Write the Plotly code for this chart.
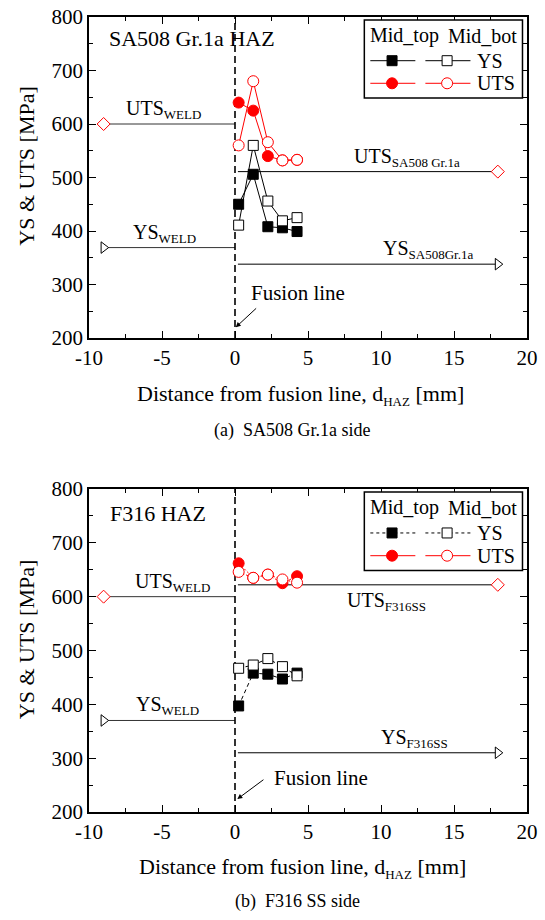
import plotly.graph_objects as go

FONT = "Liberation Serif"

# ---------------- data ----------------
x_haz = [0.25, 1.25, 2.25, 3.25, 4.25]

# (a) SA508 Gr.1a side
ys_mid_top_a = [450, 506, 408, 406, 399]
ys_mid_bot_a = [411, 560, 456, 419, 425]
uts_mid_top_a = [640, 625, 540, 532, 533]
uts_mid_bot_a = [560, 680, 566, 532, 533]
uts_weld_a = 600
ys_weld_a = 369
uts_base_a = 511
ys_base_a = 338

# (b) F316 SS side
ys_mid_top_b = [397, 458, 456, 447, 458]
ys_mid_bot_b = [467, 473, 485, 470, 453]
uts_mid_top_b = [662, 635, 641, 625, 638]
uts_mid_bot_b = [646, 635, 641, 632, 626]
uts_weld_b = 600
ys_weld_b = 370
uts_base_b = 622
ys_base_b = 310

x_weld = [-9, 0]      # weld reference: marker at -9, line to fusion line
x_base = [0.2, 18]    # base-metal reference: line from fusion line to marker at 18
x_fusion = [0, 0]
y_fusion = [200, 800]

x_range = [-10, 20]
y_range = [200, 800]
x_tickvals = [-10, -5, 0, 5, 10, 15, 20]
x_ticktext = ["-10", "-5", "0", "5", "10", "15", "20"]
y_tickvals = [200, 300, 400, 500, 600, 700, 800]
y_ticktext = ["200", "300", "400", "500", "600", "700", "800"]

fig = go.Figure()


def add_panel(xa, ya, ys_top, ys_bot, uts_top, uts_bot,
              uts_weld, ys_weld, uts_base, ys_base, ys_dash, uts_dash):
    common = dict(xaxis=xa, yaxis=ya, showlegend=False, hoverinfo="skip")
    # weld reference lines
    for val, sym, col in [(uts_weld, "diamond", "red"), (ys_weld, "triangle-right", "black")]:
        fig.add_trace(go.Scatter(x=x_weld, y=[val, val], mode="lines",
                                 line=dict(color="#333333", width=1), **common))
        fig.add_trace(go.Scatter(x=[x_weld[0]], y=[val], mode="markers",
                                 marker=dict(symbol=sym, size=10, color="white",
                                             line=dict(color=col, width=1)), **common))
    # base metal reference lines
    for val, sym, col in [(uts_base, "diamond", "red"), (ys_base, "triangle-right", "black")]:
        fig.add_trace(go.Scatter(x=x_base, y=[val, val], mode="lines",
                                 line=dict(color="black", width=1), **common))
        fig.add_trace(go.Scatter(x=[x_base[1]], y=[val], mode="markers",
                                 marker=dict(symbol=sym, size=10, color="white",
                                             line=dict(color=col, width=1)), **common))
    # fusion line
    fig.add_trace(go.Scatter(x=x_fusion, y=y_fusion, mode="lines",
                             line=dict(color="black", width=1.6, dash="7px,4px"), **common))
    # data series
    fig.add_trace(go.Scatter(x=x_haz, y=ys_top, mode="lines+markers",
                             line=dict(color="black", width=1, dash=ys_dash),
                             marker=dict(symbol="square", size=10, color="black",
                                         line=dict(color="black", width=1)), **common))
    fig.add_trace(go.Scatter(x=x_haz, y=ys_bot, mode="lines+markers",
                             line=dict(color="black", width=1, dash=ys_dash),
                             marker=dict(symbol="square", size=10, color="white",
                                         line=dict(color="black", width=1)), **common))
    fig.add_trace(go.Scatter(x=x_haz, y=uts_top, mode="lines+markers",
                             line=dict(color="red", width=1, dash=uts_dash),
                             marker=dict(symbol="circle", size=11, color="red",
                                         line=dict(color="red", width=1)), **common))
    fig.add_trace(go.Scatter(x=x_haz, y=uts_bot, mode="lines+markers",
                             line=dict(color="red", width=1, dash=uts_dash),
                             marker=dict(symbol="circle", size=11, color="white",
                                         line=dict(color="red", width=1)), **common))


add_panel("x", "y", ys_mid_top_a, ys_mid_bot_a, uts_mid_top_a, uts_mid_bot_a,
          uts_weld_a, ys_weld_a, uts_base_a, ys_base_a, "solid", "solid")
add_panel("x2", "y2", ys_mid_top_b, ys_mid_bot_b, uts_mid_top_b, uts_mid_bot_b,
          uts_weld_b, ys_weld_b, uts_base_b, ys_base_b, "4px,3px", "2px,2px")

axis_common = dict(
    showline=True, linecolor="black", linewidth=1.5, mirror="ticks",
    ticks="inside", ticklen=7, tickwidth=1, tickcolor="black",
    showgrid=False, zeroline=False, automargin=False, ticklabeloverflow="allow",
    tickfont=dict(family=FONT, size=21, color="black"),
)
xcfg = dict(axis_common, range=x_range, tickmode="array", tickvals=x_tickvals, ticktext=x_ticktext,
            minor=dict(ticks="inside", ticklen=4, tickwidth=1, tickcolor="black",
                       tick0=0, dtick=2.5, showgrid=False))
ycfg = dict(axis_common, range=y_range, tickmode="array", tickvals=y_tickvals, ticktext=y_ticktext,
            minor=dict(ticks="inside", ticklen=4, tickwidth=1, tickcolor="black",
                       tick0=200, dtick=50, showgrid=False))

top_dom = [(812 - 338) / 795, 1.0]
bot_dom = [0.0, (812 - 489) / 795]

fig.update_layout(
    template="none",
    width=545, height=920,
    margin=dict(l=89, r=18, t=17, b=108, autoexpand=False),
    paper_bgcolor="white", plot_bgcolor="white",
    font=dict(family=FONT, color="black"),
    xaxis=dict(xcfg, domain=[0, 1], anchor="y"),
    yaxis=dict(ycfg, domain=top_dom, anchor="x"),
    xaxis2=dict(xcfg, domain=[0, 1], anchor="y2"),
    yaxis2=dict(ycfg, domain=bot_dom, anchor="x2"),
)

ann = []
shapes = []


def txt(text, x, y, xref, yref, size=20, xanchor="center", yanchor="middle", yshift=0, **kw):
    ann.append(dict(text=text, x=x, y=y, xref=xref, yref=yref, showarrow=False,
                    xanchor=xanchor, yanchor=yanchor, yshift=yshift,
                    font=dict(family=FONT, size=size, color="black"), **kw))


def sub(main, s, size=13):
    return f"{main}<sub><span style='font-size:{size}px'>{s}</span></sub>"


# ---- panel (a) labels ----
txt("SA508 Gr.1a HAZ", -8.77, 760, "x", "y", size=22, xanchor="left")
txt(sub("UTS", "WELD"), -4.9, uts_weld_a, "x", "y", yanchor="bottom")
txt(sub("YS", "WELD"), -4.8, ys_weld_a, "x", "y", yanchor="bottom")
txt(sub("UTS", "SA508 Gr.1a"), 11.8, uts_base_a, "x", "y", yanchor="bottom")
txt(sub("YS", "SA508Gr.1a"), 13.2, ys_base_a, "x", "y", yanchor="bottom")
txt("Fusion line", 0.98, 285, "x", "y", size=21, xanchor="left")
ann.append(dict(x=0.05, y=220, ax=1.55, ay=258, xref="x", yref="y", axref="x", ayref="y",
                text="", showarrow=True, arrowhead=2, arrowsize=1, arrowwidth=1, arrowcolor="black"))

# ---- panel (b) labels ----
txt("F316 HAZ", -8.7, 755, "x2", "y2", size=22, xanchor="left")
txt(sub("UTS", "WELD"), -4.3, uts_weld_b, "x2", "y2", yanchor="bottom")
txt(sub("YS", "WELD"), -4.6, ys_weld_b, "x2", "y2", yanchor="bottom")
txt(sub("UTS", "F316SS"), 10.4, uts_base_b, "x2", "y2", yanchor="top", yshift=-2)
txt(sub("YS", "F316SS"), 12.3, ys_base_b, "x2", "y2", yanchor="bottom")
txt("Fusion line", 2.5, 264, "x2", "y2", size=21, xanchor="left")
ann.append(dict(x=0.16, y=224, ax=2.05, ay=262, xref="x2", yref="y2", axref="x2", ayref="y2",
                text="", showarrow=True, arrowhead=2, arrowsize=1, arrowwidth=1, arrowcolor="black"))

# ---- legends (drawn in axis-domain coordinates) ----
for xd, yd, ydash in [("x domain", "y domain", "solid"), ("x2 domain", "y2 domain", "3px,3px")]:
    shapes.append(dict(type="rect", xref=xd, yref=yd, x0=0.6286, x1=0.9897, y0=0.7477, y1=0.9907,
                       line=dict(color="black", width=1.5), fillcolor="white", layer="above"))
    txt("Mid_top", 0.72, 0.9417, xd, yd, size=20)
    txt("Mid_bot", 0.898, 0.9417, xd, yd, size=20)
    rows = [(0.8639, "black", ydash, "rect", 5, "YS"), (0.7935, "red", "solid", "circle", 5.5, "UTS")]
    for yrow, col, dsh, stype, half, label in rows:
        for (xa0, xa1, xm, fill) in [(0.6423, 0.7451, 0.6919, col), (0.768, 0.8709, 0.8176, "white")]:
            shapes.append(dict(type="line", xref=xd, yref=yd, x0=xa0, x1=xa1, y0=yrow, y1=yrow,
                               line=dict(color=col, width=1, dash=dsh), layer="above"))
            shapes.append(dict(type=stype, xref=xd, yref=yd, xsizemode="pixel", ysizemode="pixel",
                               xanchor=xm, yanchor=yrow, x0=-half, x1=half, y0=-half, y1=half,
                               line=dict(color=col, width=1), fillcolor=fill, layer="above"))
        txt(label, 0.8823, yrow, xd, yd, size=20, xanchor="left")

# ---- axis titles and captions ----
for yy in [0.8126, 0.217]:
    txt("YS &amp; UTS [MPa]", -0.1422, yy, "paper", "paper", size=22, textangle=-90)
txt(sub("Distance from fusion line, d", "HAZ") + " [mm]", 0.484, 0.5245, "paper", "paper", size=22)
txt(sub("Distance from fusion line, d", "HAZ") + " [mm]", 0.4874, -0.0704, "paper", "paper", size=22)
txt("(a)  SA508 Gr.1a side", 0.4646, 0.4805, "paper", "paper", size=18)
txt("(b)  F316 SS side", 0.476, -0.1132, "paper", "paper", size=18)

fig.update_layout(annotations=ann, shapes=shapes)
# remove the browser's default 8px body margin so the figure fills the 545x920 window exactly
fig.write_html("out.html", config={"displayModeBar": False},
               post_script="document.body.style.margin='0';")
